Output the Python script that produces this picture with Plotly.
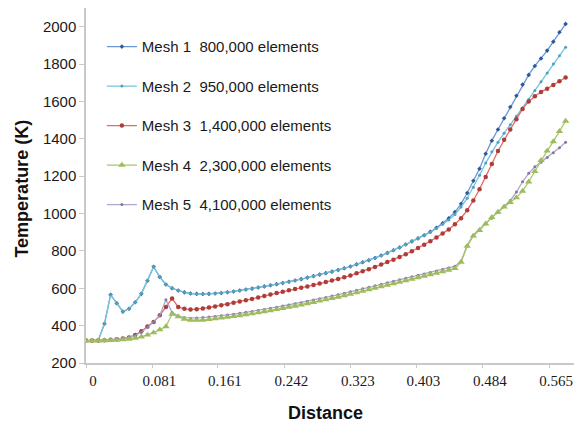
import plotly.graph_objects as go

distance = [0.0, 0.0075, 0.015, 0.0225, 0.03, 0.0375, 0.045, 0.0525, 0.06, 0.0675,
            0.075, 0.0825, 0.09, 0.0975, 0.105, 0.1125, 0.12, 0.1275, 0.135, 0.1425,
            0.15, 0.1575, 0.165, 0.1725, 0.18, 0.1875, 0.195, 0.2025, 0.21, 0.2175,
            0.225, 0.2325, 0.24, 0.2475, 0.255, 0.2625, 0.27, 0.2775, 0.285, 0.2925,
            0.30, 0.3075, 0.315, 0.3225, 0.33, 0.3375, 0.345, 0.3525, 0.36, 0.3675,
            0.375, 0.3825, 0.39, 0.3975, 0.405, 0.4125, 0.42, 0.4275, 0.435, 0.4425,
            0.45, 0.4575, 0.465, 0.4725, 0.48, 0.4875, 0.495, 0.5025, 0.51, 0.5175,
            0.525, 0.5325, 0.54, 0.5475, 0.555, 0.5625, 0.57, 0.5775, 0.585]

mesh1 = [320, 320, 322, 410, 565, 520, 475, 490, 525, 570,
         640, 715, 660, 620, 600, 588, 578, 572, 570, 569,
         570, 572, 575, 579, 583, 588, 593, 598, 604, 610,
         616, 622, 628, 635, 642, 649, 657, 665, 673, 681,
         689, 698, 707, 716, 728, 739, 750, 762, 775, 789,
         803, 818, 834, 851, 867, 884, 902, 924, 948, 975,
         1008, 1052, 1110, 1175, 1240, 1320, 1390, 1450, 1510, 1570,
         1630, 1690, 1742, 1790, 1830, 1872, 1920, 1970, 2015]

mesh2 = [320, 320, 322, 410, 565, 520, 475, 490, 525, 570,
         640, 715, 660, 620, 600, 588, 578, 572, 570, 569,
         570, 572, 575, 579, 583, 588, 593, 598, 604, 610,
         616, 622, 628, 635, 642, 649, 657, 665, 673, 681,
         689, 698, 707, 716, 728, 739, 750, 762, 775, 789,
         803, 818, 834, 851, 867, 883, 900, 920, 942, 966,
         995, 1035, 1082, 1140, 1205, 1270, 1330, 1382, 1430, 1475,
         1520, 1565, 1610, 1658, 1705, 1752, 1800, 1845, 1890]

mesh3 = [320, 320, 321, 322, 324, 327, 331, 337, 350, 370,
         395, 420, 455, 500, 545, 500, 490, 486, 488, 492,
         497, 503, 509, 515, 522, 529, 536, 543, 551, 558,
         566, 574, 582, 589, 596, 603, 610, 617, 625, 633,
         641, 650, 659, 668, 680, 691, 702, 714, 727, 740,
         753, 767, 782, 798, 815, 833, 852, 872, 893, 915,
         942, 975, 1018, 1070, 1130, 1195, 1265, 1335, 1395, 1450,
         1505, 1560, 1600, 1628, 1650, 1668, 1688, 1708, 1728]

mesh4 = [318, 318, 319, 320, 321, 323, 325, 328, 333, 340,
         350, 362, 378, 395, 462, 448, 435, 430, 429, 430,
         433, 437, 441, 445, 449, 454, 459, 464, 469, 475,
         481, 487, 493, 499, 505, 511, 518, 525, 532, 539,
         546, 553, 561, 569, 577, 585, 593, 601, 609, 617,
         625, 633, 641, 649, 657, 665, 673, 681, 689, 697,
         706, 740, 825, 880, 910, 945, 980, 1008, 1035, 1060,
         1085, 1120, 1170, 1225, 1285, 1335, 1385, 1440, 1495]

mesh5 = [320, 320, 321, 322, 324, 327, 331, 337, 348, 365,
         392, 420, 455, 538, 470, 452, 443, 440, 441, 443,
         446, 449, 453, 457, 461, 466, 471, 476, 481, 487,
         493, 499, 505, 511, 517, 523, 530, 537, 544, 551,
         558, 565, 573, 581, 589, 597, 605, 613, 621, 629,
         637, 645, 653, 661, 669, 677, 685, 693, 701, 709,
         718, 745, 830, 885, 915, 945, 975, 1005, 1040, 1070,
         1115, 1170, 1215, 1250, 1275, 1300, 1325, 1352, 1382]

names = ["Mesh 1  800,000 elements", "Mesh 2  950,000 elements",
         "Mesh 3  1,400,000 elements", "Mesh 4  2,300,000 elements",
         "Mesh 5  4,100,000 elements"]

tick_vals = [0, 0.081, 0.161, 0.242, 0.323, 0.403, 0.484, 0.565]
tick_text = ["0", "0.081", "0.161", "0.242", "0.323", "0.403", "0.484", "0.565"]

styles = [
    dict(line="#6a98d4", marker="#2d5a96", symbol="diamond", size=3.5),
    dict(line="#74c4dc", marker="#569fb8", symbol="circle", size=3),
    dict(line="#e06a66", marker="#b03c3a", symbol="circle", size=4.5),
    dict(line="#a8c56e", marker="#9dbc5c", symbol="triangle-up", size=6.5),
    dict(line="#b0a6cf", marker="#85779f", symbol="circle", size=3),
]
series = [mesh1, mesh2, mesh3, mesh4, mesh5]

fig = go.Figure()
order = [0, 1, 2, 4, 3]
for k in order:
    st = styles[k]
    fig.add_trace(go.Scatter(
        x=distance, y=series[k], name=names[k], mode="lines+markers",
        legendgroup=f"g{k}", legendrank=k + 1,
        line=dict(color=st["line"], width=1.3),
        marker=dict(color=st["marker"], symbol=st["symbol"], size=st["size"],
                    line=dict(width=0)),
    ))

# page body has an 8px margin: figure is sized/placed to compensate
fig.update_layout(
    width=574, height=417,
    margin=dict(l=78, r=0, t=0, b=62),
    paper_bgcolor="white", plot_bgcolor="white",
    font=dict(family="Arial, Liberation Sans, sans-serif", size=15, color="#1a1a1a"),
    showlegend=True,
    legend=dict(x=0.032, y=0.937, xanchor="left", yanchor="top",
                bgcolor="rgba(0,0,0,0)", tracegroupgap=17,
                font=dict(size=15, color="#1a1a1a"), itemwidth=30),
    annotations=[
        dict(text="<b>Distance</b>", xref="paper", yref="paper", x=0.482, y=-0.14,
             xanchor="center", yanchor="middle", showarrow=False,
             font=dict(size=18, color="#111")),
        dict(text="<b>Temperature (K)</b>", xref="paper", yref="paper", x=-0.128, y=0.49,
             xanchor="center", yanchor="middle", showarrow=False, textangle=-90,
             font=dict(size=18, color="#111")),
    ],
)
fig.update_xaxes(range=[0, 0.605], tickvals=tick_vals, ticktext=tick_text,
                 showline=True, linecolor="#c8c8c8", linewidth=1.5,
                 ticks="outside", ticklen=3, tickcolor="#c8c8c8", automargin=False,
                 showgrid=False, zeroline=False, ticklabelshift=7,
                 tickfont=dict(family="Liberation Serif, Times New Roman, serif", size=15, color="#1a1a1a"))
fig.update_yaxes(range=[200, 2100], tickvals=[200, 400, 600, 800, 1000, 1200, 1400, 1600, 1800, 2000],
                 showline=True, linecolor="#c8c8c8", linewidth=1.5,
                 ticks="outside", ticklen=5, tickcolor="#c8c8c8", automargin=False,
                 showgrid=False, zeroline=False,
                 tickfont=dict(size=15, color="#1a1a1a"))

fig.write_html("out.html")
